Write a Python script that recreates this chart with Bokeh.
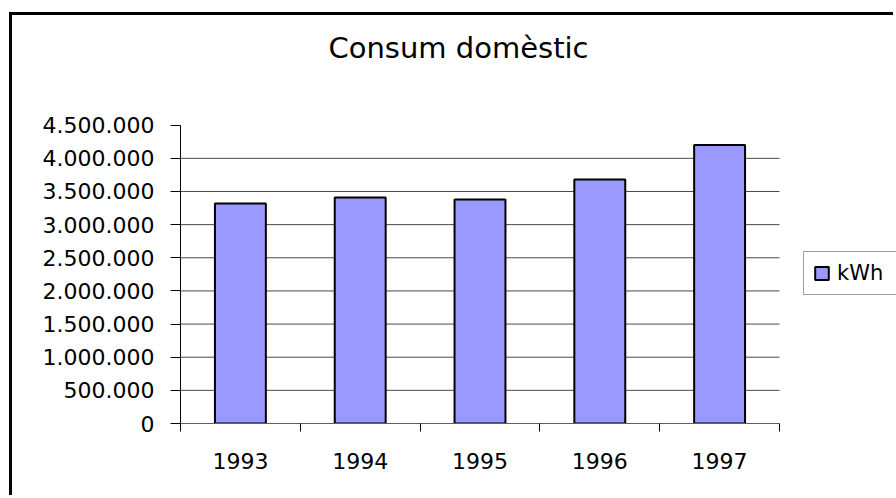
from bokeh.plotting import figure
from bokeh.models import Range1d, FixedTicker, Legend, LegendItem, Label
from bokeh.embed import file_html
from bokeh.resources import INLINE

# ---- data ----
years = ["1993", "1994", "1995", "1996", "1997"]
kwh = [3320000, 3410000, 3380000, 3680000, 4200000]
y_ticks = [0, 500000, 1000000, 1500000, 2000000, 2500000, 3000000, 3500000, 4000000, 4500000]
series_name = "kWh"
title_text = "Consum domèstic"

BAR = "#9999FF"
FONT = "DejaVu Sans"

# layout (pixels)
W, H = 884, 483
LEFT, BOTTOM = 168, 75
FRAME_W, FRAME_H = W - LEFT, H - BOTTOM        # frame reaches canvas top/right
CAT_W = 599 / len(years)                        # pixel width of one category
AXIS_H = 298.3                                  # pixel height of 0..max tick

xpos = [i + 0.5 for i in range(len(years))]
grid_ticks = y_ticks[1:-1]

p = figure(width=W, height=H, output_backend="svg", toolbar_location=None,
           x_range=Range1d(0, FRAME_W / CAT_W),
           y_range=Range1d(0, y_ticks[-1] * FRAME_H / AXIS_H),
           min_border_left=LEFT, min_border_right=0, min_border_top=0,
           min_border_bottom=BOTTOM, title=None)
p.styles = {"border-left": "3px solid black", "border-top": "3px solid black",
            "margin-left": "9px", "margin-top": "12px"}
p.outline_line_color = None
p.background_fill_color = "white"
p.border_fill_color = "white"
p.xgrid.visible = False
p.ygrid.visible = False

# horizontal grid lines, limited to the category area
p.segment(x0=0, x1=len(years), y0=grid_ticks, y1=grid_ticks,
          line_color="#4a4a4a", line_width=1, level="underlay")

bars = p.vbar(x=xpos, top=kwh, width=0.425, fill_color=BAR, line_color="black",
              line_width=2)

# title
p.add_layout(Label(x=278, y=376, x_units="screen", y_units="screen", text=title_text,
                   text_align="center", text_baseline="alphabetic",
                   text_font=FONT, text_font_size="29px", text_color="black"))

# y axis
ya = p.yaxis[0]
ya.bounds = (0, y_ticks[-1])
ya.ticker = FixedTicker(ticks=y_ticks)
ya.major_label_overrides = {t: f"{t:,}".replace(",", ".") for t in y_ticks}
ya.axis_line_color = "black"
ya.major_tick_line_color = "black"
ya.major_tick_out = 10
ya.major_tick_in = 0
ya.minor_tick_line_color = None
ya.major_label_standoff = 16
ya.major_label_text_font = FONT
ya.major_label_text_font_size = "22px"
ya.major_label_text_color = "black"

# x axis
xa = p.xaxis[0]
xa.bounds = (0, len(years))
xa.ticker = FixedTicker(ticks=xpos, minor_ticks=list(range(len(years) + 1)))
xa.major_label_overrides = {x: y for x, y in zip(xpos, years)}
xa.axis_line_color = "#606060"
xa.major_tick_line_color = None
xa.minor_tick_line_color = "black"
xa.minor_tick_out = 8
xa.minor_tick_in = 0
xa.major_label_standoff = 21
xa.major_label_text_font = FONT
xa.major_label_text_font_size = "22px"
xa.major_label_text_color = "black"

legend = Legend(items=[LegendItem(label=series_name, renderers=[bars])],
                location=(623, 128), margin=0, padding=9, spacing=0,
                glyph_width=17, glyph_height=16, label_height=20, label_width=50,
                label_standoff=7, label_text_font=FONT, label_text_font_size="21px",
                label_text_color="black", border_line_color="#404040",
                border_line_width=1, background_fill_color="white",
                background_fill_alpha=1.0)
p.add_layout(legend, "center")

open("out.html", "w").write(file_html(p, INLINE))
